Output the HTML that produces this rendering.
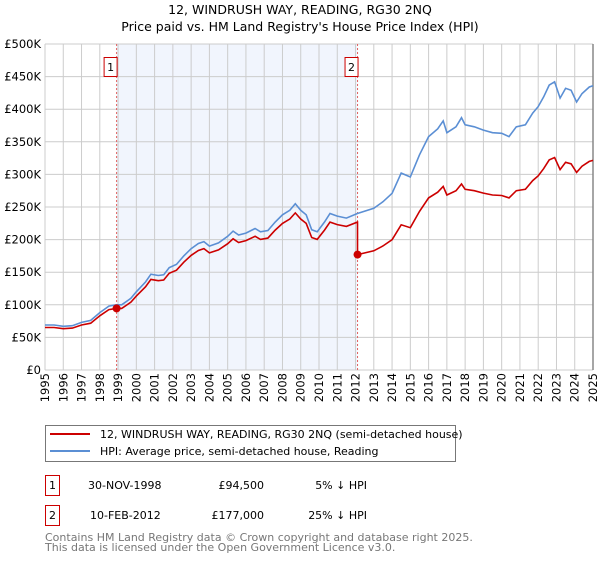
<!DOCTYPE html>
<html><head><meta charset="utf-8"><style>
body{margin:0;background:#fff;font-family:"DejaVu Sans","Liberation Sans",sans-serif;}
svg text{font-family:"DejaVu Sans","Liberation Sans",sans-serif;}
</style></head><body>
<svg id="chart" width="600" height="560" xmlns="http://www.w3.org/2000/svg">
<text x="300" y="14" text-anchor="middle" font-size="12.5">12, WINDRUSH WAY, READING, RG30 2NQ</text>
<text x="300" y="31" text-anchor="middle" font-size="12.5">Price paid vs. HM Land Registry's House Price Index (HPI)</text>
<g id="plot"></g>
<g>
<rect x="45.5" y="425.5" width="410" height="36" fill="#fff" stroke="#777"/>
<line x1="50" y1="434" x2="90" y2="434" stroke="#cc0000" stroke-width="2"/>
<text x="100" y="438" font-size="11">12, WINDRUSH WAY, READING, RG30 2NQ (semi-detached house)</text>
<line x1="50" y1="451" x2="90" y2="451" stroke="#5b8fd4" stroke-width="2"/>
<text x="100" y="455" font-size="11">HPI: Average price, semi-detached house, Reading</text>
</g>
<g font-size="11">
<rect x="45.5" y="475.5" width="14" height="20" fill="#fff" stroke="#cc0000"/>
<text x="52.5" y="489" text-anchor="middle">1</text>
<text x="88" y="489">30-NOV-1998</text>
<text x="264" y="489" text-anchor="end">£94,500</text>
<text x="367" y="489" text-anchor="end">5% ↓ HPI</text>
<rect x="45.5" y="505.5" width="14" height="20" fill="#fff" stroke="#cc0000"/>
<text x="52.5" y="519" text-anchor="middle">2</text>
<text x="90" y="519">10-FEB-2012</text>
<text x="264" y="519" text-anchor="end">£177,000</text>
<text x="367" y="519" text-anchor="end">25% ↓ HPI</text>
</g>
<text x="45" y="541" font-size="11" fill="#777">Contains HM Land Registry data © Crown copyright and database right 2025.</text>
<text x="45" y="551" font-size="11" fill="#777">This data is licensed under the Open Government Licence v3.0.</text>
</svg>
<script>
const hpiYears=[1995,1995.5,1996,1996.5,1997,1997.5,1998,1998.5,1998.9,1999.2,1999.7,2000,2000.5,2000.8,2001.2,2001.5,2001.8,2002.2,2002.6,2003,2003.4,2003.7,2004,2004.5,2005,2005.3,2005.6,2006,2006.5,2006.8,2007.2,2007.6,2008,2008.4,2008.7,2009,2009.3,2009.6,2009.9,2010.3,2010.6,2011,2011.5,2012.1,2013,2013.5,2014,2014.5,2015,2015.5,2016,2016.5,2016.8,2017,2017.5,2017.8,2018,2018.5,2019,2019.5,2020,2020.4,2020.8,2021.3,2021.7,2022,2022.3,2022.6,2022.9,2023.2,2023.5,2023.8,2024.1,2024.4,2024.8,2025];
const hpiValues=[69,69,67,68,73,76,88,98,100,100,110,120,135,147,145,146,157,162,175,186,194,197,190,195,205,213,207,210,217,212,214,227,238,245,255,245,238,215,212,227,240,236,233,240,248,258,271,302,296,330,358,370,382,364,373,387,376,373,368,364,363,358,373,376,394,404,419,437,442,417,432,429,411,424,434,436];
const saleYears=[1998.92,2012.11];
const salePrices=[94.5,177];
const yTicks=[0,50,100,150,200,250,300,350,400,450,500];
const yTickLabels=["£0","£50K","£100K","£150K","£200K","£250K","£300K","£350K","£400K","£450K","£500K"];
const xTicks=[1995,1996,1997,1998,1999,2000,2001,2002,2003,2004,2005,2006,2007,2008,2009,2010,2011,2012,2013,2014,2015,2016,2017,2018,2019,2020,2021,2022,2023,2024,2025];

const X0=45,X1=593,Y0=370,Y1=44;
const x=v=>X0+(v-1995)/30*(X1-X0);
const y=v=>Y0-v/500*(Y0-Y1);
const NS="http://www.w3.org/2000/svg";
const plot=document.getElementById('plot');
function mk(t,a){const e=document.createElementNS(NS,t);for(const k in a)e.setAttribute(k,a[k]);plot.appendChild(e);return e;}
function hpiAt(t){for(let i=1;i<hpiYears.length;i++){if(t<=hpiYears[i]){const f=(t-hpiYears[i-1])/(hpiYears[i]-hpiYears[i-1]);return hpiValues[i-1]+f*(hpiValues[i]-hpiValues[i-1]);}}return hpiValues[hpiValues.length-1];}

let bg=mk('rect',{x:X0,y:Y1,width:X1-X0,height:Y0-Y1,fill:'#fff'});


let sh=mk('rect',{x:x(saleYears[0]),y:Y1,width:x(saleYears[1])-x(saleYears[0]),height:Y0-Y1,fill:'#eef3fc',opacity:0.8});


xTicks.forEach(t=>{
 let g=mk('line',{x1:x(t),x2:x(t),y1:Y1,y2:Y0,stroke:'#ccc','stroke-width':1});
 
 
 let l=mk('text',{x:0,y:0,'font-size':11.5,'text-anchor':'end',transform:`translate(${x(t)+4},${Y0+3}) rotate(-90)`});
 l.textContent=t;
 
 
});
yTicks.forEach((t,i)=>{
 let g=mk('line',{x1:X0,x2:X1,y1:y(t),y2:y(t),stroke:'#ccc','stroke-width':1});
 
 
 let l=mk('text',{x:X0-4,y:y(t)+4,'font-size':11.5,'text-anchor':'end'});
 l.textContent=yTickLabels[i];
 
 
});
let rb=mk('line',{x1:X1,x2:X1,y1:Y1,y2:Y0,stroke:'#888','stroke-width':1.5});


saleYears.forEach((s,i)=>{
 let l=mk('line',{x1:x(s),x2:x(s),y1:Y1,y2:Y0,stroke:'#e06060','stroke-width':1,'stroke-dasharray':'2,2'});
 
 
 let r=mk('rect',{x:x(s)-12.5,y:57.5,width:13,height:19,fill:'#fff',stroke:'#cc0000'});
 
 
 let t=mk('text',{x:x(s)-6,y:71,'font-size':11,'text-anchor':'middle'});
 t.textContent=String(i+1);
 
 
});
// HPI line
let hp=hpiYears.map((t,i)=>`${i?'L':'M'}${x(t).toFixed(1)},${y(hpiValues[i]).toFixed(1)}`).join('');
let hl=mk('path',{d:hp,fill:'none',stroke:'#5b8fd4','stroke-width':1.6});


// Property line: HPI indexed to sale prices
const r1=salePrices[0]/hpiAt(saleYears[0]), r2=salePrices[1]/hpiAt(saleYears[1]);
let pts=[];
hpiYears.forEach((t,i)=>{
 if(t<saleYears[1]) pts.push([t,hpiValues[i]*r1]);
});
pts.push([saleYears[1],hpiAt(saleYears[1])*r1]);
pts.push([saleYears[1],salePrices[1]]);
hpiYears.forEach((t,i)=>{ if(t>saleYears[1]) pts.push([t,hpiValues[i]*r2]); });
let rp=pts.map((p,i)=>`${i?'L':'M'}${x(p[0]).toFixed(1)},${y(p[1]).toFixed(1)}`).join('');
let pl=mk('path',{d:rp,fill:'none',stroke:'#cc0000','stroke-width':1.6});


saleYears.forEach((s,i)=>{
 let c=mk('circle',{cx:x(s),cy:y(salePrices[i]),r:4,fill:'#cc0000'});
 
 
});
</script>
</body></html>
